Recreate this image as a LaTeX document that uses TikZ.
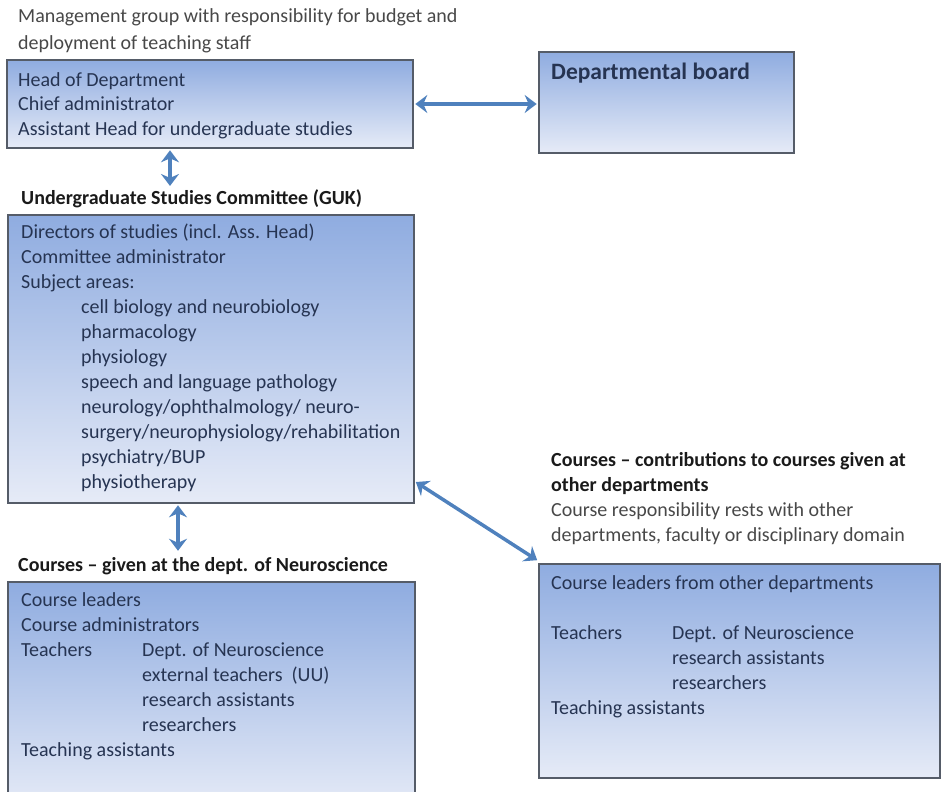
\documentclass[tikz,border=0pt]{standalone}
\usepackage{fontspec}
\setmainfont{Carlito}
\usetikzlibrary{arrows.meta}
\definecolor{boxtop}{RGB}{143,172,224}
\definecolor{boxbot}{RGB}{230,235,247}
\definecolor{boxline}{RGB}{85,92,104}
\definecolor{arrowc}{RGB}{79,129,189}
\definecolor{boxtext}{RGB}{38,52,82}
\definecolor{graytext}{RGB}{72,72,72}
\definecolor{headtext}{RGB}{26,26,26}
\newcommand{\mylines}[6]{%
  \foreach \t [count=\i] in {#6} {
    \node[#5, anchor=base west] (#1\i) at (#2, {#3+(\i-1)*#4}) {\t};
  }%
}
\begin{document}
\begin{tikzpicture}[x=1pt, y=-1pt,
  panel/.style={draw=boxline, line width=1.6pt, top color=boxtop, bottom color=boxbot, inner sep=0, rectangle},
  boxtxt/.style={font=\fontsize{20}{24}\selectfont, text=boxtext, inner sep=0},
  graytxt/.style={font=\fontsize{20}{24}\selectfont, text=graytext, inner sep=0},
  headtxt/.style={font=\fontsize{20}{24}\selectfont\bfseries, text=headtext, inner sep=0},
  arr/.style={draw=arrowc, line width=3.5pt, {Stealth[length=12pt,width=18pt,inset=4pt]}-{Stealth[length=12pt,width=18pt,inset=4pt]}}]
\useasboundingbox (0,0) rectangle (942,792);

% boxes
\node[panel, minimum width=406pt, minimum height=88pt] (b1) at (210,104) {};
\node[panel, minimum width=255pt, minimum height=101pt] (board) at (666.5,102.5) {};
\node[panel, minimum width=406pt, minimum height=288pt] (guk) at (211,359) {};
\node[panel, minimum width=407pt, minimum height=228pt] (crs) at (211.5,696) {};
\node[panel, minimum width=401pt, minimum height=214pt] (rb) at (739.5,671) {};

% top text
\mylines{top}{18}{23}{26}{graytxt}{Management group with responsibility for budget and, deployment of teaching staff}
% box 1
\mylines{bl}{18}{86}{24.5}{boxtxt}{Head of Department, Chief administrator, Assistant Head for undergraduate studies}
% board
\node[font=\fontsize{23.5}{28}\selectfont\bfseries, text=boxtext, inner sep=0, anchor=base west] (boardt) at (551,80) {Departmental board};

% GUK
\node[headtxt, anchor=base west] (gukh) at (21,204) {Undergraduate Studies Committee (GUK)};
\mylines{ga}{21}{238}{25}{boxtxt}{Directors of studies (incl. Ass. Head), Committee administrator, Subject areas:}
\mylines{gs}{81}{313}{25}{boxtxt}{cell biology and neurobiology, pharmacology, physiology, speech and language pathology, neurology/ophthalmology/ neuro-, surgery/neurophysiology/rehabilitation, psychiatry/BUP, physiotherapy}

% Courses at dept
\node[headtxt, anchor=base west] (crh) at (18,571) {Courses – given at the dept. of Neuroscience};
\mylines{ca}{21}{606}{25}{boxtxt}{Course leaders, Course administrators, Teachers}
\node[boxtxt, anchor=base west] (cta) at (21,756) {Teaching assistants};
\mylines{cb}{142}{656}{25}{boxtxt}{Dept. of Neuroscience, external teachers~~(UU), research assistants, researchers}

% Courses other depts
\mylines{rh}{551}{466}{25}{headtxt}{Courses – contributions to courses given at, other departments}
\mylines{rg}{551}{516}{25}{graytxt}{Course responsibility rests with other, {departments, faculty or disciplinary domain}}
\node[boxtxt, anchor=base west] (rl) at (551,589) {Course leaders from other departments};
\node[boxtxt, anchor=base west] (rt) at (551,639) {Teachers};
\node[boxtxt, anchor=base west] (rta) at (551,714) {Teaching assistants};
\mylines{rc}{672}{639}{25}{boxtxt}{Dept. of Neuroscience, research assistants, researchers}

% arrows
\coordinate (xa) at (170,0);
\coordinate (xb) at (178,0);
\coordinate (yd) at (0,482);
\draw[arr] ([xshift=1.5pt]b1.east) -- ([xshift=-1.5pt]b1.east -| board.west);
\draw[arr] ([yshift=-1.5pt]b1.south -| xa) -- ([yshift=3pt]gukh.north -| xa);
\draw[arr] ([yshift=-1.5pt]guk.south -| xb) -- ([yshift=6pt]crh.north -| xb);
\draw[arr] ([xshift=1pt]guk.east |- yd) -- ([xshift=-1pt,yshift=3pt]rb.north west);
\end{tikzpicture}
\end{document}
